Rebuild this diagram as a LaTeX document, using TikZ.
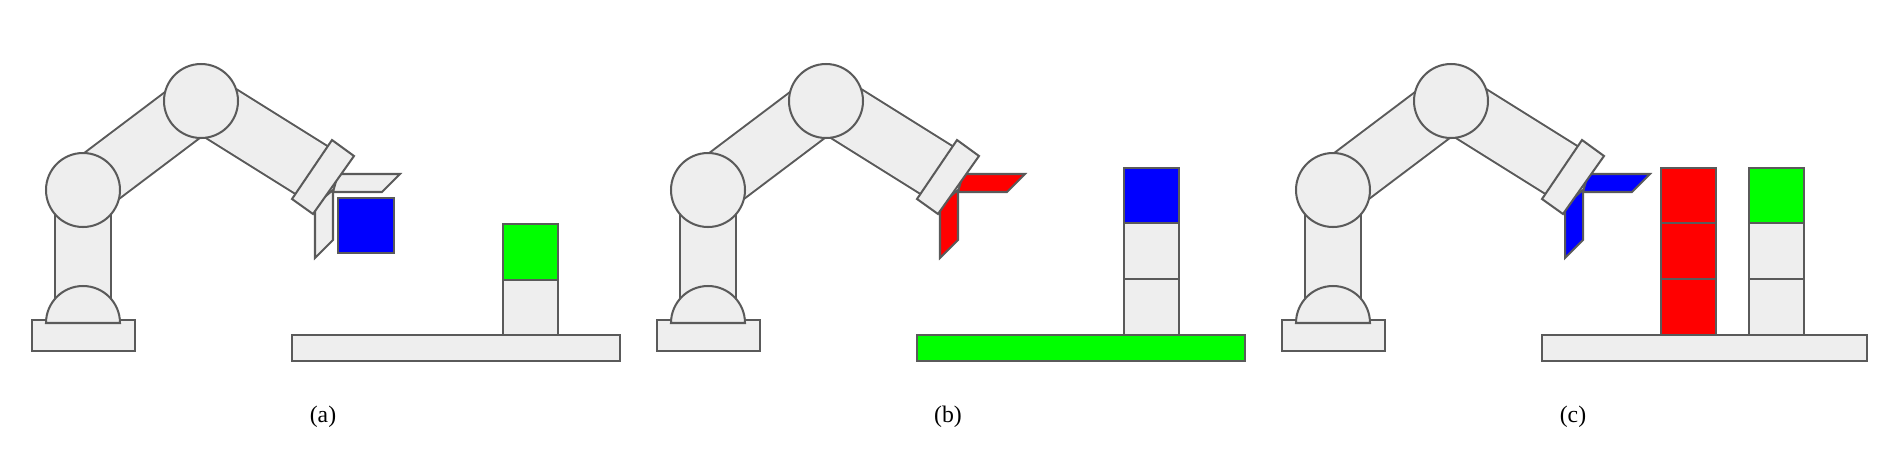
\documentclass[tikz,border=0pt]{standalone}
\usepackage{fontspec}
\setmainfont{Liberation Serif}
\definecolor{edge}{HTML}{5A5A5A}
\definecolor{part}{HTML}{EEEEEE}
\definecolor{gr}{HTML}{00FF00}
\definecolor{bl}{HTML}{0000FF}
\definecolor{rd}{HTML}{FF0000}
\tikzset{
  solid part/.style={draw=edge,line width=1.15pt,line join=miter},
  link out/.style={draw=edge,line width=33.9pt},
  link in/.style={draw=part,line width=31.6pt},
  lab/.style={font=\fontsize{13.5}{15}\selectfont}
}
\newcommand{\robotarm}[2]{%
\begin{scope}[shift={(#1,0)}]
  \coordinate (S) at (83,190);
  \coordinate (E) at (201,101);
  \coordinate (W) at (313,171);
  \draw[solid part,fill=part] (55,190) rectangle (111,323);
  \draw[solid part,fill=part] (32,320) rectangle (135,351);
  \draw[solid part,fill=part] (46,323) arc[start angle=180,end angle=360,radius=37] -- cycle;
  \draw[link out] (S) -- (E);
  \draw[link in] (S) -- (E);
  \draw[solid part,fill=part] (S) circle[radius=37];
  \draw[link out] (E) -- (W);
  \draw[link in] (E) -- (W);
  \draw[solid part,fill=part] (E) circle[radius=37];
  \draw[solid part,fill=#2] (338,174) -- (400,174) -- (382,192) -- (333,192) -- cycle;
  \draw[solid part,fill=#2] (333,190) -- (333,240) -- (315,258) -- (315,205) -- cycle;
  \draw[solid part,fill=part] (332,140) -- (354,156) -- (313,214) -- (292,199) -- cycle;
\end{scope}}
\begin{document}
\begin{tikzpicture}[x=0.02cm,y=-0.02cm]
\useasboundingbox (0,0) rectangle (1898,464);
% panel a
\robotarm{0}{part}
\draw[solid part,fill=bl] (338,198) rectangle (394,253);
\draw[solid part,fill=part] (292,335) rectangle (620,361);
\draw[solid part,fill=part] (503,280) rectangle (558,335);
\draw[solid part,fill=gr] (503,224) rectangle (558,280);
\node[lab] (la) at (323,417) {(a)};
% panel b
\robotarm{625}{rd}
\draw[solid part,fill=gr] (917,335) rectangle (1245,361);
\draw[solid part,fill=part] (1124,279) rectangle (1179,335);
\draw[solid part,fill=part] (1124,223) rectangle (1179,279);
\draw[solid part,fill=bl] (1124,168) rectangle (1179,223);
\node[lab] (lb) at (948,417) {(b)};
% panel c
\robotarm{1250}{bl}
\draw[solid part,fill=part] (1542,335) rectangle (1867,361);
\draw[solid part,fill=rd] (1661,279) rectangle (1716,335);
\draw[solid part,fill=rd] (1661,223) rectangle (1716,279);
\draw[solid part,fill=rd] (1661,168) rectangle (1716,223);
\draw[solid part,fill=part] (1749,279) rectangle (1804,335);
\draw[solid part,fill=part] (1749,223) rectangle (1804,279);
\draw[solid part,fill=gr] (1749,168) rectangle (1804,223);
\node[lab] (lc) at (1573,417) {(c)};
\end{tikzpicture}
\end{document}
